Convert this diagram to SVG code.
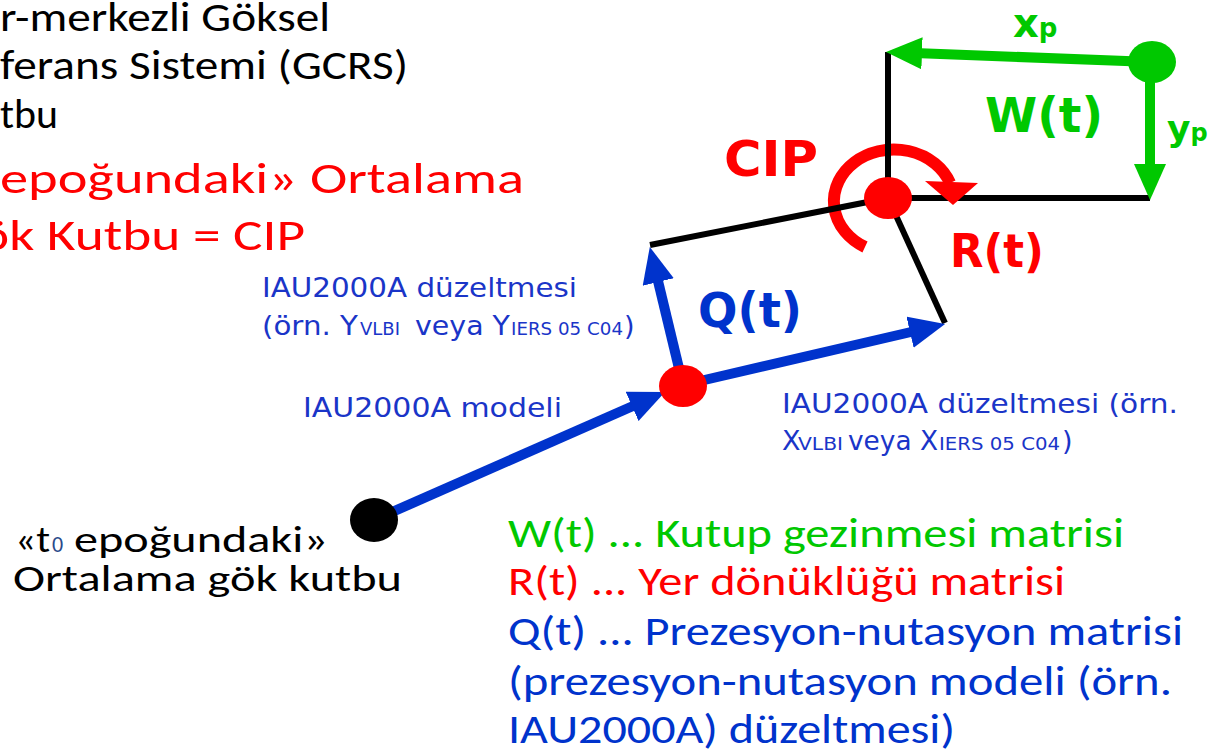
<svg xmlns="http://www.w3.org/2000/svg" width="1216" height="754" viewBox="0 0 1216 754">
<style>
.cal{font-family:Carlito,Calibri,Lato,"Open Sans",sans-serif;font-size:40px}
.ver{font-family:"DejaVu Sans",Verdana,sans-serif;font-size:27px;fill:#1a35c8}
.sub{font-family:"DejaVu Sans",Verdana,sans-serif;font-size:18px;fill:#1a35c8}
.bold{font-family:"DejaVu Sans",Verdana,sans-serif;font-weight:bold}
.blk{stroke:#000;stroke-width:6;fill:none}
.blue{stroke:#0033cc;stroke-width:10;fill:none}
.green{stroke:#00c800;stroke-width:10;fill:none}
.bl{font-size:36px}
</style>
<defs>
<marker id="ahB" markerUnits="userSpaceOnUse" markerWidth="36" markerHeight="32" refX="1" refY="16" orient="auto" viewBox="0 0 36 32"><path d="M0,0 L36,16 L0,32 z" fill="#0033cc"/></marker>
<marker id="ahG" markerUnits="userSpaceOnUse" markerWidth="36" markerHeight="32" refX="1" refY="16" orient="auto" viewBox="0 0 36 32"><path d="M0,0 L36,16 L0,32 z" fill="#00c800"/></marker>
</defs>
<rect width="1216" height="754" fill="#fff"/>

<g id="title-text">
<text class="cal" x="0" y="31" textLength="330" lengthAdjust="spacingAndGlyphs" fill="#000">r-merkezli Göksel</text>
<text class="cal" x="0" y="79" textLength="408" lengthAdjust="spacingAndGlyphs" fill="#000">ferans Sistemi (GCRS)</text>
<text class="cal" x="0" y="128" textLength="58" lengthAdjust="spacingAndGlyphs" fill="#000">tbu</text>
<text class="cal" x="0" y="193" style="font-size:44px" textLength="524" lengthAdjust="spacingAndGlyphs" fill="#ff0000">epoğundaki» Ortalama</text>
<text class="cal" x="-20" y="250" style="font-size:44px" textLength="325" lengthAdjust="spacingAndGlyphs" fill="#ff0000">ök Kutbu = CIP</text>
</g>

<g id="cip-arc">
<path d="M 865 247 A 60 52 0 1 1 950 183" stroke="#ff0000" stroke-width="12" fill="none"/>
</g>

<g id="connectors">
<line class="blk" x1="888" y1="52" x2="888" y2="198"/>
<line class="blk" x1="888" y1="198" x2="1150" y2="198"/>
<line class="blk" x1="888" y1="198" x2="650" y2="245"/>
<line class="blk" x1="888" y1="198" x2="945" y2="323"/>
<line class="blue" x1="374" y1="520" x2="633" y2="406" marker-end="url(#ahB)"/>
<line class="blue" x1="683" y1="385" x2="658" y2="281" marker-end="url(#ahB)"/>
<line class="blue" x1="683" y1="385" x2="911" y2="332" marker-end="url(#ahB)"/>
<line class="green" x1="1152" y1="62" x2="921" y2="53.3" marker-end="url(#ahG)"/>
<line class="green" x1="1150" y1="62" x2="1150" y2="165" marker-end="url(#ahG)"/>
</g>

<g id="cip-arrowhead">
<polygon points="925,181 978,183 953,205" fill="#ff0000"/>
</g>

<g id="node-t0">
<ellipse cx="374" cy="520" rx="24" ry="22" fill="#000"/>
<text class="cal bl" x="15" y="552" textLength="35" lengthAdjust="spacingAndGlyphs" fill="#000">«t</text>
<text class="cal" x="52" y="552" style="font-size:22px" fill="#2a4a8a">0</text>
<text class="cal bl" x="74" y="552" textLength="254" lengthAdjust="spacingAndGlyphs" fill="#000">epoğundaki»</text>
<text class="cal bl" x="13" y="591" textLength="389" lengthAdjust="spacingAndGlyphs" fill="#000">Ortalama gök kutbu</text>
</g>

<g id="node-mid">
<ellipse cx="683" cy="386" rx="24" ry="21" fill="#ff0000"/>
</g>

<g id="node-cip">
<ellipse cx="888" cy="198" rx="24" ry="21" fill="#ff0000"/>
<text class="bold" x="724" y="176" style="font-size:50px" textLength="94" lengthAdjust="spacingAndGlyphs" fill="#ff0000">CIP</text>
</g>

<g id="node-pole">
<ellipse cx="1152" cy="62" rx="24" ry="21" fill="#00c800"/>
</g>

<g id="labels">
<text class="bold" x="698" y="327" style="font-size:48px" textLength="104" lengthAdjust="spacingAndGlyphs" fill="#0033cc">Q(t)</text>
<text class="bold" x="950" y="267" style="font-size:46px" textLength="94" lengthAdjust="spacingAndGlyphs" fill="#ff0000">R(t)</text>
<text class="bold" x="985" y="132" style="font-size:48px" textLength="118" lengthAdjust="spacingAndGlyphs" fill="#00c800">W(t)</text>
<text class="bold" x="1013" y="37" style="font-size:40px" fill="#00c800">x<tspan style="font-size:26px">p</tspan></text>
<text class="bold" x="1167" y="141" style="font-size:36px" fill="#00c800">y<tspan style="font-size:24px">p</tspan></text>

<text class="ver" x="262" y="297" textLength="315" lengthAdjust="spacingAndGlyphs">IAU2000A düzeltmesi</text>
<text class="ver" x="262" y="335" textLength="96" lengthAdjust="spacingAndGlyphs">(örn. Y</text>
<text class="sub" x="360" y="335" textLength="40" lengthAdjust="spacingAndGlyphs">VLBI</text>
<text class="ver" x="415" y="335" textLength="95" lengthAdjust="spacingAndGlyphs">veya Y</text>
<text class="sub" x="511" y="335" textLength="112" lengthAdjust="spacingAndGlyphs">IERS 05 C04</text>
<text class="ver" x="624" y="335">)</text>
<text class="ver" x="303" y="417" textLength="259" lengthAdjust="spacingAndGlyphs">IAU2000A modeli</text>
<text class="ver" x="782" y="413" textLength="396" lengthAdjust="spacingAndGlyphs">IAU2000A düzeltmesi (örn.</text>
<text class="ver" x="782" y="450">X</text>
<text class="sub" x="798" y="450" textLength="45" lengthAdjust="spacingAndGlyphs">VLBI</text>
<text class="ver" x="848" y="450" textLength="90" lengthAdjust="spacingAndGlyphs">veya X</text>
<text class="sub" x="939" y="450" textLength="121" lengthAdjust="spacingAndGlyphs">IERS 05 C04</text>
<text class="ver" x="1062" y="450">)</text>
</g>

<g id="legend">
<text class="cal" x="508" y="547" textLength="616" lengthAdjust="spacingAndGlyphs" fill="#00c800">W(t) ... Kutup gezinmesi matrisi</text>
<text class="cal" x="508" y="595" textLength="557" lengthAdjust="spacingAndGlyphs" fill="#ff0000">R(t) ... Yer dönüklüğü matrisi</text>
<text class="cal" x="508" y="645" textLength="675" lengthAdjust="spacingAndGlyphs" fill="#0033cc">Q(t) ... Prezesyon-nutasyon matrisi</text>
<text class="cal" x="508" y="695" textLength="664" lengthAdjust="spacingAndGlyphs" fill="#0033cc">(prezesyon-nutasyon modeli (örn.</text>
<text class="cal" x="508" y="743" textLength="447" lengthAdjust="spacingAndGlyphs" fill="#0033cc">IAU2000A) düzeltmesi)</text>
</g>
</svg>
